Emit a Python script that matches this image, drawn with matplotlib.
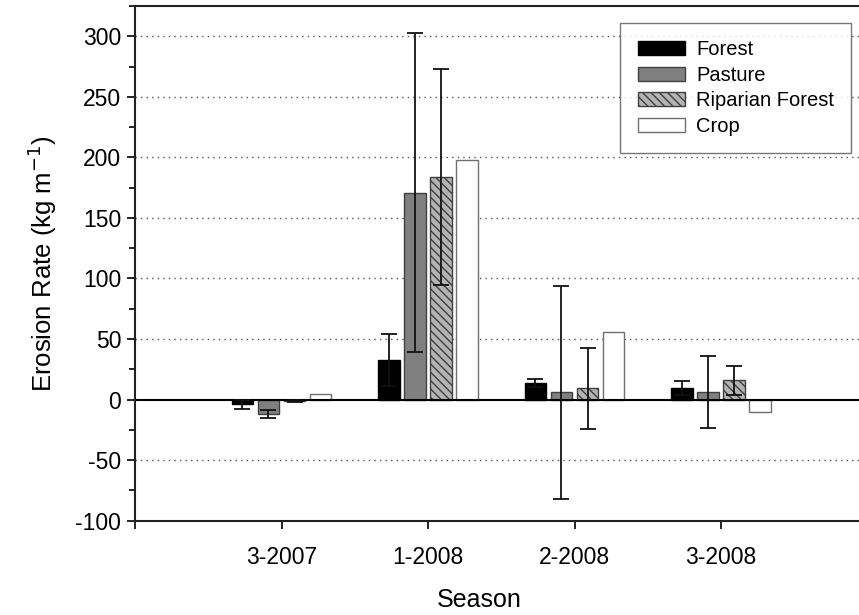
import matplotlib
matplotlib.use('Agg')
import matplotlib.pyplot as plt
from matplotlib.ticker import MultipleLocator
import numpy as np

plt.rcParams['font.family'] = ['Liberation Sans', 'DejaVu Sans']
plt.rcParams['axes.unicode_minus'] = False
plt.rcParams['hatch.color'] = '#303030'
plt.rcParams['hatch.linewidth'] = 1.0

seasons = ['3-2007', '1-2008', '2-2008', '3-2008']
land_uses = ['Forest', 'Pasture', 'Riparian Forest', 'Crop']

# mean erosion rate per land use, one value per season
forest = [-4, 33, 13.5, 9.5]
pasture = [-12, 171, 6, 6]
riparian = [-1, 184, 9.5, 16]
crop = [4.5, 198, 56, -10]

forest_err = [3.5, 21.5, 3.3, 5.5]
pasture_err = [3, 132, 88, 29.7]
riparian_err = [1, 89, 33.5, 12]
crop_err = [0, 0, 0, 0]

means = [forest, pasture, riparian, crop]
errs = [forest_err, pasture_err, riparian_err, crop_err]
faces = ['#000000', '#808080', '#b4b4b4', '#ffffff']
edges = ['#000000', '#404040', '#404040', '#707070']
hatches = [None, None, '\\\\\\\\', None]

fig = plt.figure(figsize=(8.59, 6.15), dpi=100)
ax = fig.add_axes([135/859, 1-520.7/615, 1-135/859, (520.7-6)/615])

x = np.arange(1, len(seasons)+1)
step = 0.178
width = 0.147
for i in range(4):
    pos = x + (i-1.5)*step
    ax.bar(pos, means[i], width, color=faces[i], edgecolor=edges[i],
           linewidth=1.0, hatch=hatches[i], label=land_uses[i], zorder=2)
    e = np.array(errs[i])
    m = e > 0
    ax.errorbar(pos[m], np.array(means[i])[m], yerr=e[m], fmt='none',
                ecolor='#111111', elinewidth=1.3, capsize=6, capthick=1.3, zorder=3)

ax.axhline(0, color='black', lw=1.5, zorder=2.5)

ax.set_xlim(0, 724/146.5)
ax.set_ylim(-100, 325)
ax.set_xticks([0] + list(x))
ax.set_xticklabels([''] + seasons)
ax.yaxis.set_major_locator(MultipleLocator(50))
ax.yaxis.set_minor_locator(MultipleLocator(25))
ax.set_yticks([-100, -50, 0, 50, 100, 150, 200, 250, 300])

for yv in [-50, 50, 100, 150, 200, 250, 300]:
    ax.axhline(yv, color='#555555', lw=1.0, ls=(0, (1, 3)), zorder=1)

ax.spines['right'].set_visible(False)
for s in ['top', 'left', 'bottom']:
    ax.spines[s].set_linewidth(1.5)
    ax.spines[s].set_color('#222222')

ax.tick_params(axis='y', which='major', direction='out', length=6, width=1.2, labelsize=16.5, pad=4)
ax.tick_params(axis='y', which='minor', direction='out', length=4, width=1.2)
ax.tick_params(axis='x', direction='out', length=6, width=1.2, labelsize=16.5, pad=12)

ax.set_xlabel('Season', fontsize=18)
ax.xaxis.set_label_coords(0.476, -0.13)
ax.set_ylabel('Erosion Rate (kg m$^{-1}$)', fontsize=18.5, labelpad=12)

leg = ax.legend(loc='upper right', bbox_to_anchor=(0.989, 0.967), fontsize=14.5,
                frameon=True, fancybox=False, handlelength=2.35, handleheight=0.7,
                borderpad=0.85, labelspacing=0.33, handletextpad=0.55, borderaxespad=0)
leg.get_frame().set_edgecolor('#555555')
leg.get_frame().set_linewidth(1.0)

fig.savefig('out.png', dpi=100)
